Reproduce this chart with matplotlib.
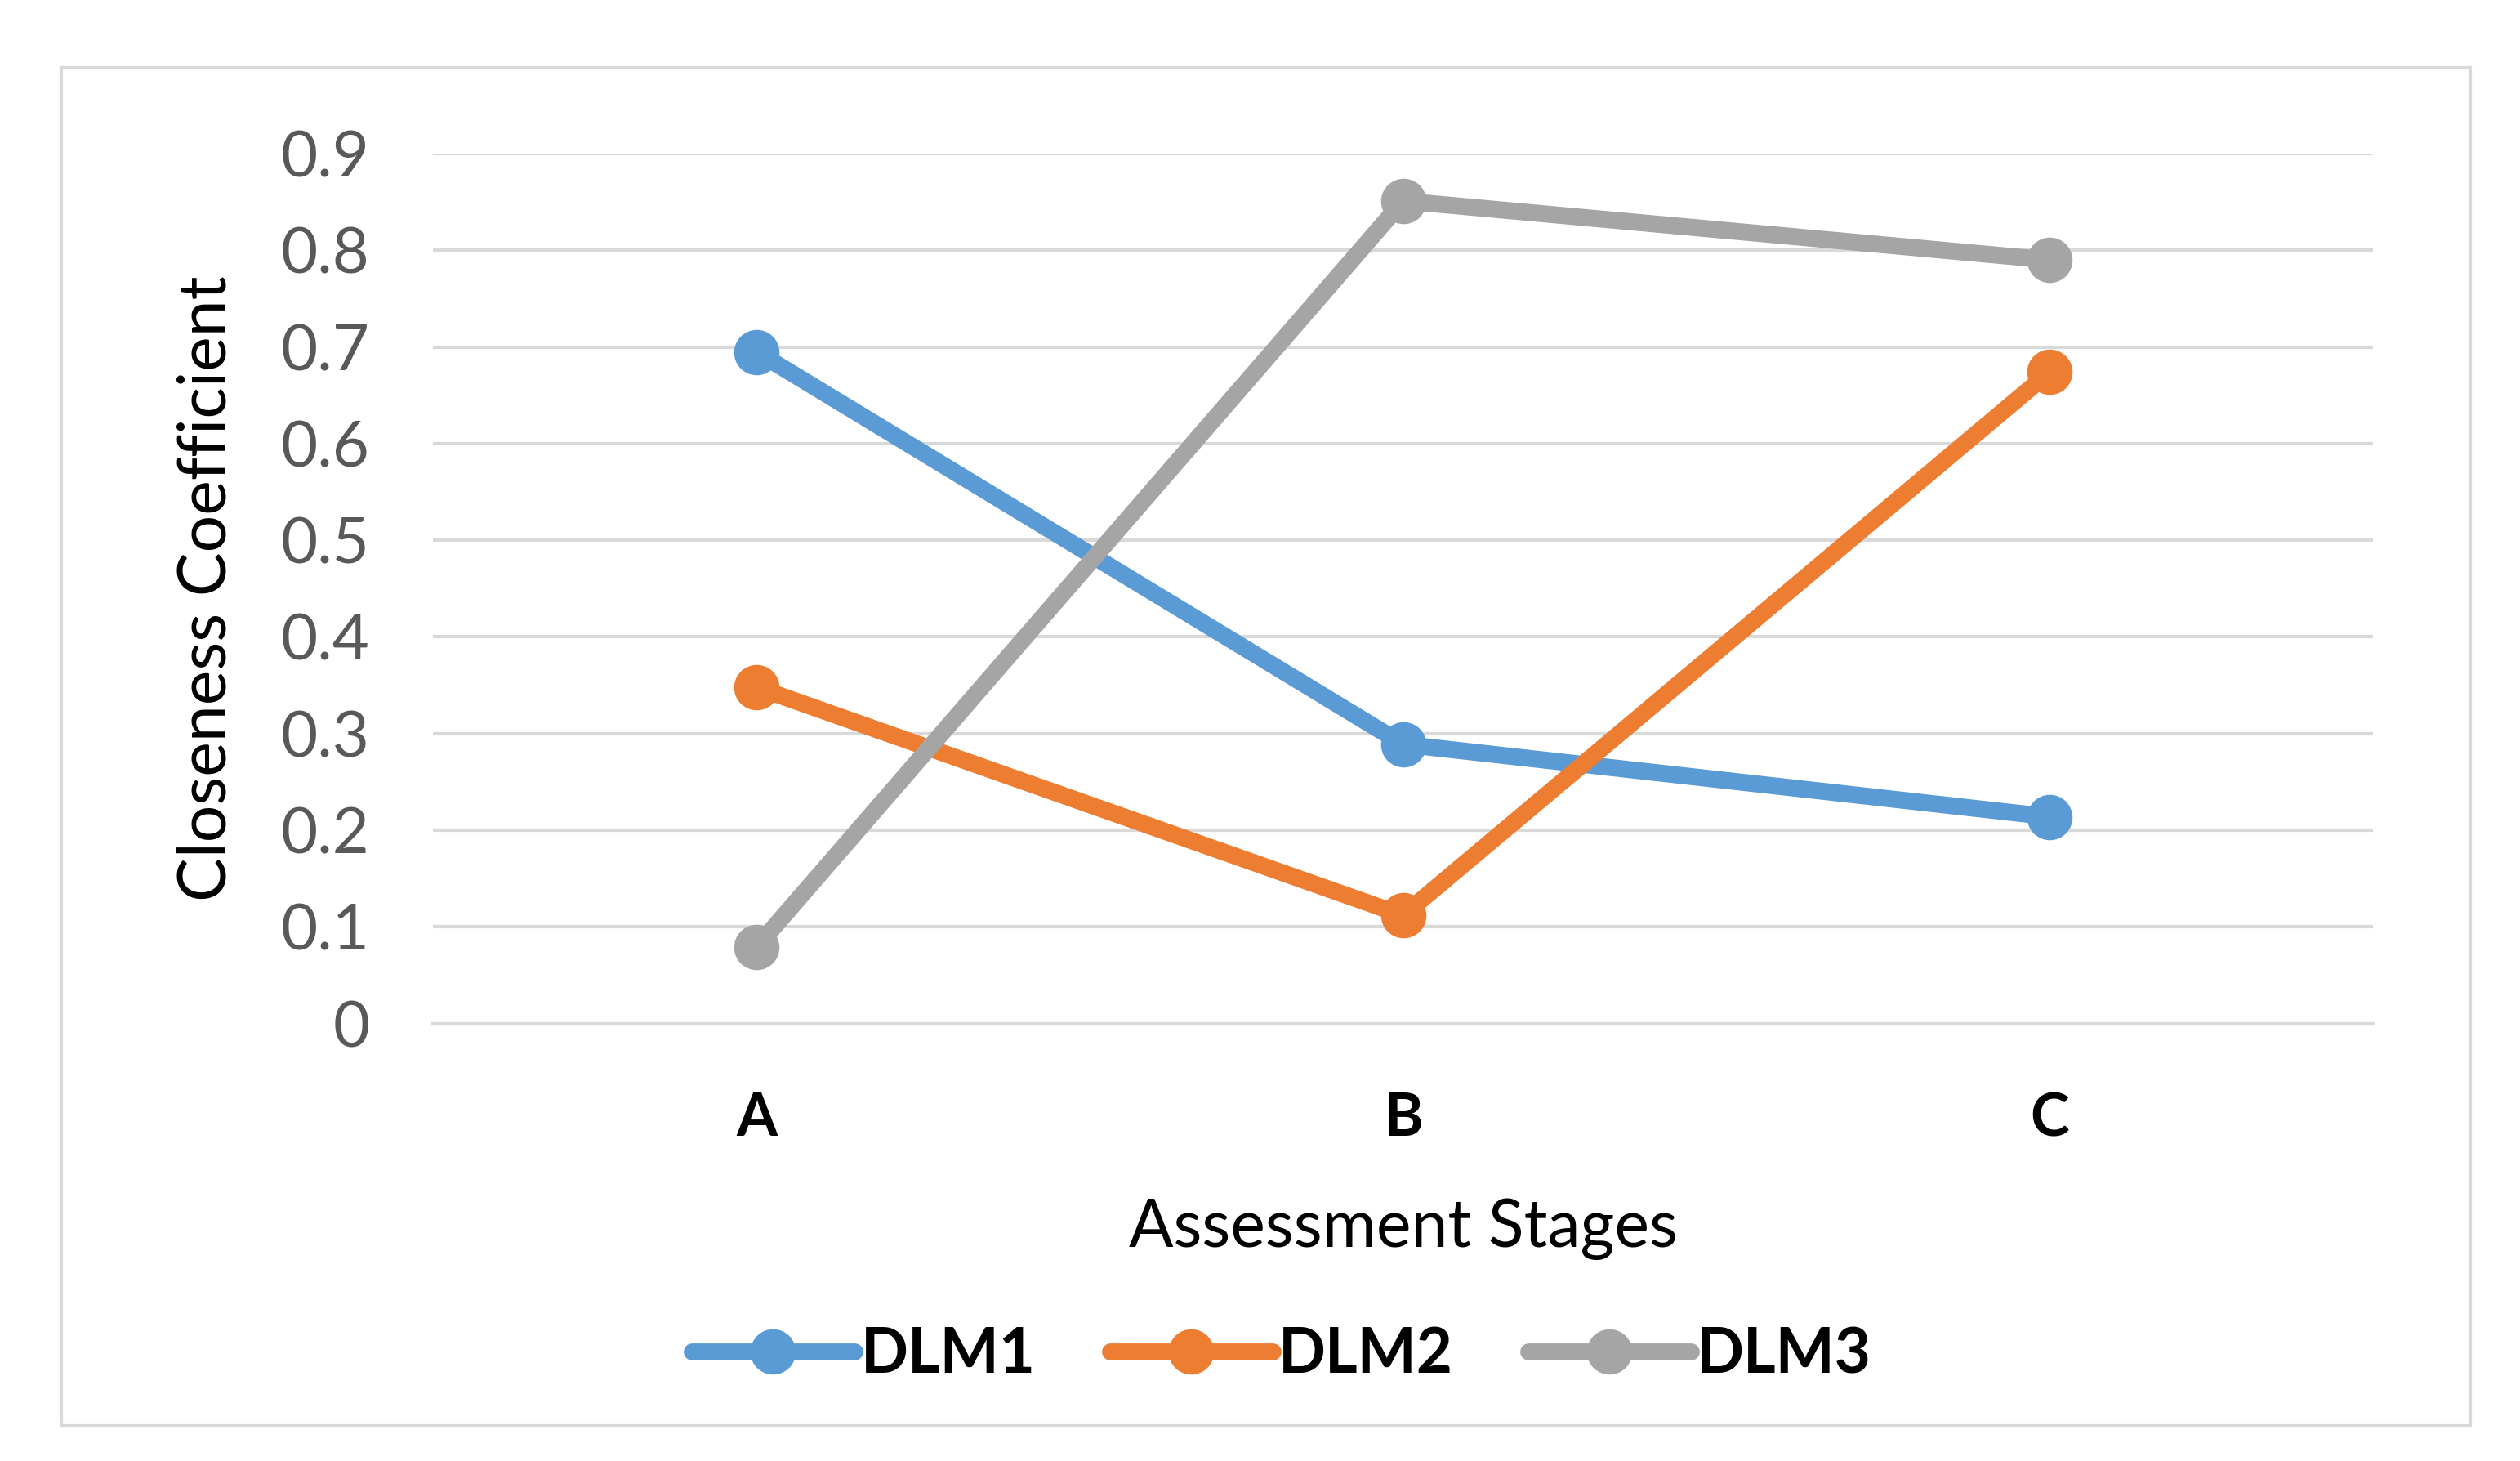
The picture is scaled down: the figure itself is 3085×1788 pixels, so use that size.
import matplotlib
matplotlib.use("Agg")
import matplotlib.pyplot as plt
from matplotlib.patches import Rectangle

categories = ["A", "B", "C"]
dlm1 = [0.695, 0.289, 0.214]
dlm2 = [0.348, 0.112, 0.674]
dlm3 = [0.079, 0.851, 0.790]
series_names = ["DLM1", "DLM2", "DLM3"]
yticks = [0, 0.1, 0.2, 0.3, 0.4, 0.5, 0.6, 0.7, 0.8, 0.9]
ytick_labels = ["0", "0.1", "0.2", "0.3", "0.4", "0.5", "0.6", "0.7", "0.8", "0.9"]

colors = ["#5B9BD5", "#ED7D31", "#A5A5A5"]

plt.rcParams['font.family'] = ['Lato', 'DejaVu Sans']

fig = plt.figure(figsize=(15.425, 8.94), dpi=200)
W, H = 1559.0, 903.5
ax = fig.add_axes([268 / W, 1 - 633 / H, 1200 / W, 538 / H])

# outer border
fig.patches.append(Rectangle((38 / W, 1 - 882 / H), 1490 / W, 840 / H,
                             transform=fig.transFigure, fill=False,
                             edgecolor="#D9D9D9", linewidth=1.5))

x = list(range(len(categories)))
for vals, name, c in zip([dlm1, dlm2, dlm3], series_names, colors):
    ax.plot(x, vals, color=c, linewidth=7.5, marker='o', markersize=19,
            label=name, solid_capstyle='round', zorder=3)

ax.set_xlim(-0.5, 2.5)
ax.set_ylim(0, 0.9)
ax.set_yticks(yticks)
ax.set_yticklabels(ytick_labels)
ax.set_xticks(x)
ax.set_xticklabels(categories, fontweight='bold')
ax.yaxis.grid(True, color="#D9D9D9", linewidth=1.5, zorder=0)
ax.set_axisbelow(True)
for s in ax.spines.values():
    s.set_visible(False)
ax.spines['bottom'].set_visible(True)
ax.spines['bottom'].set_color("#D9D9D9")
ax.spines['bottom'].set_linewidth(1.5)
ax.tick_params(axis='both', length=0)
ax.tick_params(axis='y', labelsize=28, labelcolor="#595959", pad=28)
ax.tick_params(axis='x', labelsize=26, labelcolor="black", pad=30)

ax.set_xlabel("Assessment Stages", fontsize=29, color="black")
ax.set_ylabel("Closeness Coefficient", fontsize=29, color="black")
ax.xaxis.label.set_va('center')
ax.yaxis.label.set_va('center')
ax.xaxis.set_label_coords(0.5, -(760 - 633) / 538)
ax.yaxis.set_label_coords((128 - 268) / 1200, 0.5)

leg = fig.legend(loc='center', bbox_to_anchor=(793 / W, 1 - 838 / H), ncol=3,
                 frameon=False, fontsize=27.5, handlelength=2.6, columnspacing=1.2,
                 handletextpad=0.1)
for t in leg.get_texts():
    t.set_fontweight('bold')

fig.savefig("out.png", dpi=200, facecolor="white")
